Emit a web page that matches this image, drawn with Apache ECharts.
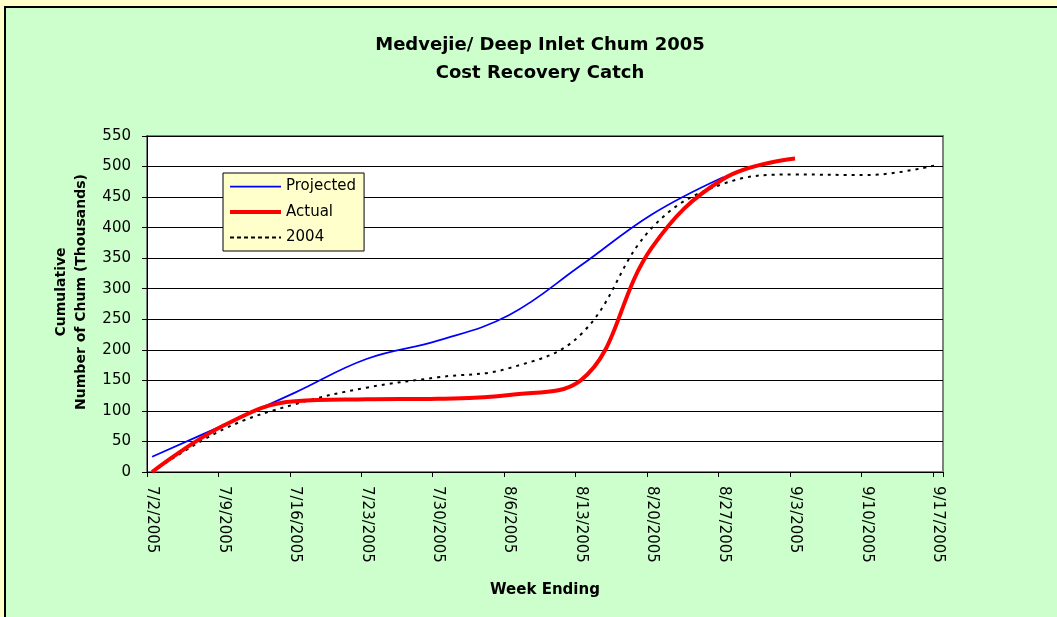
<!DOCTYPE html>
<html>
<head>
<meta charset="utf-8">
<script src="https://cdn.jsdelivr.net/npm/echarts@6/dist/echarts.min.js"></script>
<style>
  html, body { margin: 0; padding: 0; background: #FFFFCC; }
  #chart { position: absolute; left: 0; top: 0; width: 1057px; height: 617px; }
  .frame { position: absolute; background: #000; }
  .strip { position: absolute; background: #FFFFCC; }
</style>
</head>
<body>
<div id="chart"></div>
<div class="strip" style="left:0;top:0;width:1057px;height:6px;"></div>
<div class="strip" style="left:0;top:0;width:4px;height:617px;"></div>
<div class="frame" style="left:4px;top:6px;width:1053px;height:1.5px;"></div>
<div class="frame" style="left:4px;top:6px;width:1.5px;height:611px;"></div>
<script>
// ---- data ----
const weekLabels = ['7/2/2005','7/9/2005','7/16/2005','7/23/2005','7/30/2005','8/6/2005',
  '8/13/2005','8/20/2005','8/27/2005','9/3/2005','9/10/2005','9/17/2005'];
const projectedDates = weekLabels.slice(0, 9);
const projected = [25, 77, 130, 185, 215, 257, 338, 422, 483];
const actualDates = weekLabels.slice(0, 10);
const actual = [0, 76, 116, 119, 120, 126, 150, 368, 480, 513];
const y2004Dates = weekLabels.slice(0, 12);
const y2004 = [0, 70, 111, 138, 155, 170, 225, 400, 472, 487, 486, 503];

// daily categories (date axis with day base unit), 7/2/2005 .. 9/17/2005
const categories = [];
{
  const start = new Date(2005, 6, 2);
  const end = new Date(2005, 8, 17);
  for (let d = new Date(start); d <= end; d.setDate(d.getDate() + 1)) {
    categories.push((d.getMonth() + 1) + '/' + d.getDate() + '/' + d.getFullYear());
  }
}
const pair = (dates, vals) => dates.map((d, i) => [d, vals[i]]);

const FONT = 'DejaVu Sans';
const hidden = 'rgba(0,0,0,0)';
const chart = echarts.init(document.getElementById('chart'), null, { renderer: 'canvas' });
chart.setOption({
  animation: false,
  backgroundColor: '#CCFFCC',
  textStyle: { fontFamily: FONT, color: '#000' },
  graphic: [
    {
      type: 'text', x: 540, y: 59,
      style: {
        text: 'Medvejie/ Deep Inlet Chum 2005\nCost Recovery Catch',
        font: 'bold 18px "DejaVu Sans"', fill: '#000',
        align: 'center', verticalAlign: 'middle', lineHeight: 28
      }
    }
  ],
  legend: {
    orient: 'vertical', left: 223, top: 173,
    backgroundColor: '#FFFFCC', borderColor: '#000', borderWidth: 1,
    padding: [5.5, 8, 5.5, 5],
    itemWidth: 51, itemHeight: 14, itemGap: 9.5,
    itemStyle: { color: hidden, borderColor: hidden, borderWidth: 0, opacity: 0 },
    textStyle: { fontFamily: FONT, fontSize: 15, color: '#000', lineHeight: 16 },
    data: [
      { name: 'Projected', lineStyle: { width: 1.75 } },
      { name: 'Actual', lineStyle: { width: 4 } },
      { name: '2004', lineStyle: { width: 2, type: [4, 3] } }
    ]
  },
  grid: {
    left: 147, top: 136, width: 796, height: 336,
    show: true, backgroundColor: '#FFFFFF', borderColor: '#808080', borderWidth: 2
  },
  xAxis: {
    type: 'category', data: categories, boundaryGap: true,
    name: 'Week Ending', nameLocation: 'middle', nameGap: 111,
    nameTextStyle: { fontFamily: FONT, fontWeight: 'bold', fontSize: 15, color: '#000' },
    axisLine: { lineStyle: { color: '#000', width: 1 } },
    axisTick: { show: true, length: 5, alignWithLabel: false, interval: (i) => i % 7 === 0, lineStyle: { color: '#000' } },
    axisLabel: {
      interval: (i) => i % 7 === 0, rotate: -90, margin: 14,
      fontFamily: FONT, fontSize: 15, color: '#000'
    },
    splitLine: { show: false }
  },
  yAxis: {
    type: 'value', min: 0, max: 550, interval: 50,
    name: 'Cumulative\nNumber of Chum (Thousands)', nameLocation: 'middle', nameGap: 56,
    nameTextStyle: { fontFamily: FONT, fontWeight: 'bold', fontSize: 14, color: '#000', lineHeight: 20, padding: [0, 0, 0, 24] },
    axisLine: { show: true, lineStyle: { color: '#000', width: 1 } },
    axisTick: { show: true, length: 5, lineStyle: { color: '#000' } },
    axisLabel: { margin: 16, fontFamily: FONT, fontSize: 15, color: '#000' },
    splitLine: { show: true, lineStyle: { color: '#000', width: 1 } }
  },
  series: [
    {
      name: 'Projected', type: 'line', data: pair(projectedDates, projected),
      smooth: 0.4, symbol: 'none', color: '#0000FF',
      lineStyle: { color: '#0000FF', width: 1.75 }, z: 3
    },
    {
      name: 'Actual', type: 'line', data: pair(actualDates, actual),
      smooth: 0.4, symbol: 'none', color: '#FF0000',
      lineStyle: { color: '#FF0000', width: 4 }, z: 4
    },
    {
      name: '2004', type: 'line', data: pair(y2004Dates, y2004),
      smooth: 0.4, symbol: 'none', color: '#000000',
      lineStyle: { color: '#000000', width: 2, type: [3, 5] }, z: 2
    }
  ]
});
</script>
</body>
</html>
